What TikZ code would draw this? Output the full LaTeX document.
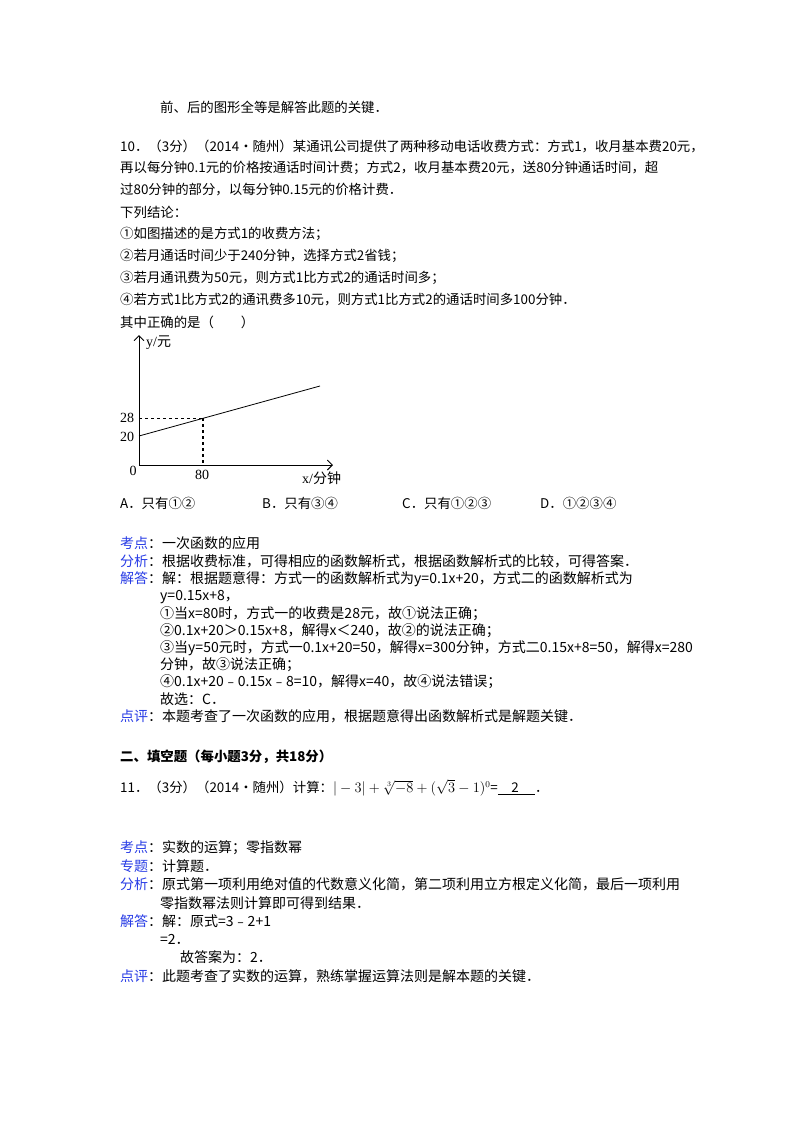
\documentclass[tikz,border=0pt]{standalone}
\usepackage{fontspec}
\usetikzlibrary{arrows.meta}
\setmainfont{Noto Sans CJK SC}
\newfontfamily\lat{Liberation Serif}
\definecolor{lab}{RGB}{40,60,230}
\begin{document}
\begin{tikzpicture}[x=1pt,y=-1pt,
  t/.style={anchor=west,inner sep=0,font=\fontsize{13.4}{15}\selectfont},
  s/.style={anchor=west,inner sep=0,font=\fontsize{14}{15}\selectfont},
  ax/.style={line width=0.9pt,-{Straight Barb[length=5pt]}}]
\useasboundingbox[fill=white] (0,0) rectangle (800,1132);
\node[t] (l0) at (160,107) {前、后的图形全等是解答此题的关键．};
\node[t] (l1) at (120,146) {10．（3分）（2014•随州）某通讯公司提供了两种移动电话收费方式：方式1，收月基本费20元，};
\node[t] (l2) at (120,168) {再以每分钟0.1元的价格按通话时间计费；方式2，收月基本费20元，送80分钟通话时间，超};
\node[t] (l3) at (120,190) {过80分钟的部分，以每分钟0.15元的价格计费．};
\node[t] (l4) at (120,212) {下列结论：};
\node[t] (l5) at (120,234) {①如图描述的是方式1的收费方法；};
\node[t] (l6) at (120,256) {②若月通话时间少于240分钟，选择方式2省钱；};
\node[t] (l7) at (120,278) {③若月通讯费为50元，则方式1比方式2的通话时间多；};
\node[t] (l8) at (120,300) {④若方式1比方式2的通讯费多10元，则方式1比方式2的通话时间多100分钟．};
\node[t] (l9) at (120,322) {其中正确的是（\quad\quad）};
% graph
\coordinate (O) at (139,465);
\coordinate (Y) at (139,335);
\coordinate (X) at (333,465);
\draw[ax] (O) -- (Y);
\draw[ax] (O) -- (X);
\coordinate (P0) at (139,436);
\coordinate (P1) at (203,418);
\coordinate (P2) at (320,386);
\coordinate (F) at (203,465);
\coordinate (G) at (139,418);
\draw[line width=0.8pt] (P0) -- (P2);
\draw[dashed,line width=0.7pt] (G) -- (P1);
\draw[dashed,line width=1.2pt] (P1) -- (F);
\node[anchor=west,inner sep=0,font=\lat\fontsize{14}{15}\selectfont] (yl) at (146,343) {y/\normalfont\fontsize{14}{15}\selectfont 元};
\node[anchor=west,inner sep=0,font=\lat\fontsize{14}{15}\selectfont] (xl) at (302,478) {x/\normalfont\fontsize{14}{15}\selectfont 分钟};
\node[inner sep=0,font=\lat\fontsize{14}{15}\selectfont] (n0) at (133,471) {0};
\node[inner sep=0,font=\lat\fontsize{14}{15}\selectfont] (n80) at (202,475) {80};
\node[inner sep=0,font=\lat\fontsize{14}{15}\selectfont] (n28) at (127,418) {28};
\node[inner sep=0,font=\lat\fontsize{14}{15}\selectfont] (n20) at (127,437) {20};
\node[t] (oa) at (120,503) {A．只有①②};
\node[t] (ob) at (262,503) {B．只有③④};
\node[t] (oc) at (402,503) {C．只有①②③};
\node[t] (od) at (540,503) {D．①②③④};
% solution
\node[s] (k1) at (120,543) {\textcolor{lab}{考点}：一次函数的应用};
\node[s] (k2) at (120,561) {\textcolor{lab}{分析}：根据收费标准，可得相应的函数解析式，根据函数解析式的比较，可得答案．};
\node[s] (k3) at (120,579) {\textcolor{lab}{解答}：解：根据题意得：方式一的函数解析式为y=0.1x+20，方式二的函数解析式为};
\node[s] (k4) at (160,597) {y=0.15x+8，};
\node[s] (k5) at (160,614) {①当x=80时，方式一的收费是28元，故①说法正确；};
\node[s] (k6) at (160,631) {②0.1x+20＞0.15x+8，解得x＜240，故②的说法正确；};
\node[s] (k7) at (160,648) {③当y=50元时，方式一0.1x+20=50，解得x=300分钟，方式二0.15x+8=50，解得x=280};
\node[s] (k8) at (160,665) {分钟，故③说法正确；};
\node[s] (k9) at (160,682) {④0.1x+20﹣0.15x﹣8=10，解得x=40，故④说法错误；};
\node[s] (k10) at (160,699) {故选：C．};
\node[s] (k11) at (120,716) {\textcolor{lab}{点评}：本题考查了一次函数的应用，根据题意得出函数解析式是解题关键．};
\node[t,font=\fontsize{13.4}{15}\selectfont\bfseries] (h2) at (120,757) {二、填空题（每小题3分，共18分）};
\node[t] (q11) at (120,788) {11．（3分）（2014•随州）计算：$|-3|+\sqrt[3]{-8}+(\sqrt{3}-1)^{0}$=\underline{\quad 2\quad\ }．};
\node[s] (m1) at (120,848) {\textcolor{lab}{考点}：实数的运算；零指数幂};
\node[s] (m2) at (120,866) {\textcolor{lab}{专题}：计算题．};
\node[s] (m3) at (120,884) {\textcolor{lab}{分析}：原式第一项利用绝对值的代数意义化简，第二项利用立方根定义化简，最后一项利用};
\node[s] (m4) at (160,903) {零指数幂法则计算即可得到结果．};
\node[s] (m5) at (120,921) {\textcolor{lab}{解答}：解：原式=3﹣2+1};
\node[s] (m6) at (160,939) {=2．};
\node[s] (m7) at (180,957) {故答案为：2．};
\node[s] (m8) at (120,976) {\textcolor{lab}{点评}：此题考查了实数的运算，熟练掌握运算法则是解本题的关键．};
\end{tikzpicture}
\end{document}
